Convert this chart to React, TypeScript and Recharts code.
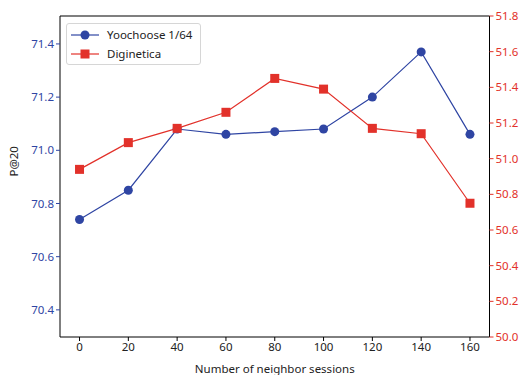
import { LineChart, Line, XAxis, YAxis, ReferenceLine } from 'recharts';

const sessions = [0, 20, 40, 60, 80, 100, 120, 140, 160];
const yoochoose = [70.74, 70.85, 71.08, 71.06, 71.07, 71.08, 71.2, 71.37, 71.06];
const diginetica = [50.94, 51.09, 51.17, 51.26, 51.45, 51.39, 51.17, 51.14, 50.75];
const leftTicks = [70.4, 70.6, 70.8, 71.0, 71.2, 71.4];
const rightTicks = [50.0, 50.2, 50.4, 50.6, 50.8, 51.0, 51.2, 51.4, 51.6, 51.8];

const BLUE = '#2f45a3';
const RED = '#e2312a';
const FONT = '"Noto Sans", sans-serif';
const LEFT_DOMAIN: [number, number] = [70.298, 71.505];

const data = sessions.map((s, i) => ({ s, yoo: yoochoose[i], dig: diginetica[i] }));

const Square = (p: any) => {
    if (p.cx == null || p.cy == null) return null;
    return <rect key={p.index} x={p.cx - 4.5} y={p.cy - 4.5} width={9} height={9} fill={RED} />;
};

// legenda desenhada fora do recharts: o Legend do recharts reservava espaço e empurrava o gráfico
const LegendBox = () => (
    <div style={{ position: 'absolute', left: 66, top: 23, border: '1px solid #d6d6d6', borderRadius: 3,
        background: 'rgba(255,255,255,0.85)', padding: '1px 8px 1px 3px', fontFamily: FONT, fontSize: 11.5,
        color: '#222', lineHeight: '19px' }}>
        <div style={{ display: 'flex', alignItems: 'center' }}>
            <svg width={30} height={12} style={{ marginRight: 7 }}>
                <line x1={1} y1={6} x2={29} y2={6} stroke={BLUE} strokeWidth={1.2} />
                <circle cx={15} cy={6} r={4.5} fill={BLUE} />
            </svg>
            Yoochoose 1/64
        </div>
        <div style={{ display: 'flex', alignItems: 'center' }}>
            <svg width={30} height={12} style={{ marginRight: 7 }}>
                <line x1={1} y1={6} x2={29} y2={6} stroke={RED} strokeWidth={1.2} />
                <rect x={10.5} y={1.5} width={9} height={9} fill={RED} />
            </svg>
            Diginetica
        </div>
    </div>
);

export default function App() {
    return (
        <div style={{ position: 'absolute', left: 0, top: 0, width: 525, height: 375, background: '#fff' }}>
            <LineChart width={525} height={375} data={data} margin={{ top: 16, right: 0, left: 0, bottom: 0 }}>
                <XAxis dataKey="s" type="number" domain={[-8, 168]} ticks={sessions} allowDataOverflow
                    height={38} stroke="#000" tickLine={{ stroke: '#000' }} tickSize={4}
                    tick={{ fontSize: 11.5, fill: '#222', fontFamily: FONT }}
                    label={{ value: 'Number of neighbor sessions', position: 'insideBottom', offset: 2, fontSize: 11.5, fill: '#222', fontFamily: FONT }} />
                <YAxis yAxisId="left" domain={LEFT_DOMAIN} ticks={leftTicks} allowDataOverflow width={60}
                    stroke="#000" tickLine={{ stroke: BLUE }} tickSize={4}
                    tickFormatter={(v: number) => v.toFixed(1)}
                    tick={{ fontSize: 11.5, fill: BLUE, fontFamily: FONT }}
                    label={{ value: 'P@20', angle: -90, position: 'insideLeft', offset: 14, fontSize: 11.5, fill: '#222', fontFamily: FONT }} />
                <YAxis yAxisId="right" orientation="right" domain={[50, 51.8]} ticks={rightTicks} allowDataOverflow width={35.5}
                    stroke="#000" tickLine={{ stroke: RED }} tickSize={4}
                    tickFormatter={(v: number) => v.toFixed(1)}
                    tick={{ fontSize: 11.5, fill: RED, fontFamily: FONT }} />
                <ReferenceLine yAxisId="left" y={LEFT_DOMAIN[1]} stroke="#000" strokeWidth={1.2} />
                <Line yAxisId="left" dataKey="yoo" name="Yoochoose 1/64" stroke={BLUE} strokeWidth={1.2}
                    dot={{ r: 4.5, fill: BLUE, stroke: BLUE, strokeWidth: 0 }} activeDot={false} isAnimationActive={false} />
                <Line yAxisId="right" dataKey="dig" name="Diginetica" stroke={RED} strokeWidth={1.2}
                    dot={<Square />} activeDot={false} isAnimationActive={false} />
            </LineChart>
            <LegendBox />
        </div>
    );
}
